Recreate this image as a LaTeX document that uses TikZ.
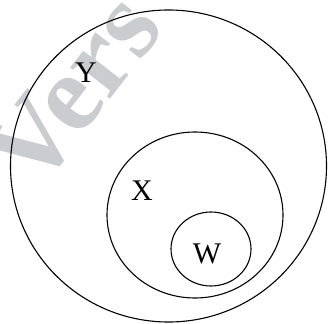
\documentclass[tikz,border=0pt]{standalone}
\usepackage{fontspec}
\setmainfont{Liberation Serif}
\usetikzlibrary{shapes.geometric}
\definecolor{wmark}{RGB}{202,204,208}
\begin{document}
\begin{tikzpicture}[x=1pt,y=-1pt,
  setline/.style={line width=1.1pt,black},
  setlabel/.style={font=\fontsize{30}{30}\selectfont,inner sep=0pt}]
\useasboundingbox (0,0) rectangle (328,323);
\node[text=wmark,rotate=52,font=\fontsize{110}{110}\selectfont\bfseries,inner sep=0pt] (wm) at (73,90) {Vers};
\node[setline,draw,ellipse,minimum width=316pt,minimum height=312pt,inner sep=0pt] (Yset) at (168.5,166) {};
\node[setline,draw,ellipse,minimum width=176pt,minimum height=166pt,inner sep=0pt] (Xset) at (195,215) {};
\node[setline,draw,ellipse,minimum width=80pt,minimum height=74pt,inner sep=0pt] (Wset) at (211,249) {};
\node[setlabel] (Ylab) at (86,73) {Y};
\node[setlabel] (Xlab) at (142,191) {X};
\node[setlabel] (Wlab) at (207,254) {W};
\end{tikzpicture}
\end{document}
